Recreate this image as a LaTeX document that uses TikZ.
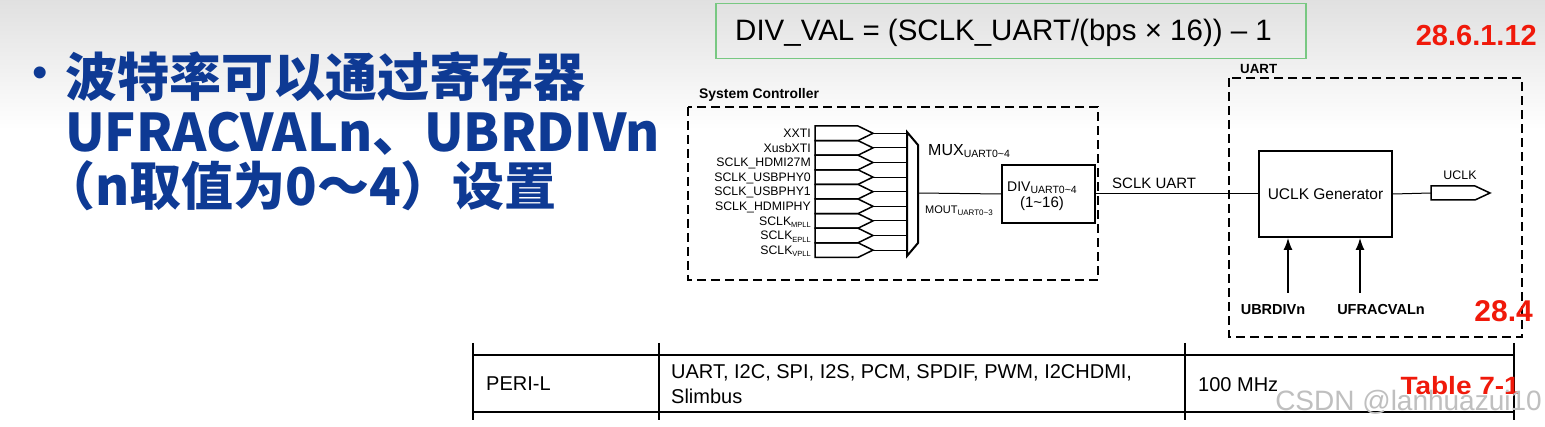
\documentclass[tikz,border=0pt]{standalone}
\usepackage{fontspec}
\setmainfont{Liberation Sans}
\newfontfamily\cjk{Noto Sans CJK SC}
\usetikzlibrary{arrows.meta}
\definecolor{tblue}{RGB}{14,58,148}
\definecolor{tred}{RGB}{240,25,10}
\definecolor{fgreen}{RGB}{120,200,130}
\newcommand\fsz[1]{\fontsize{#1}{#1}\selectfont}
\newcommand\lsub[3]{\raisebox{-#2pt}{\fontsize{#1}{#1}\selectfont #3}}
\begin{document}
\begin{tikzpicture}[x=1pt,y=-1pt,
  box/.style={draw, line width=2},
  wire/.style={draw, line width=1},
  dbox/.style={draw, line width=1.5, dash pattern=on 9pt off 5pt},
  txt/.style={inner sep=0, anchor=base west},
  lab/.style={inner sep=0, anchor=base east, font=\fsz{12.3}},
  tline/.style={draw, line width=1.5},
  redlab/.style={inner sep=0, anchor=base east, text=tred, font=\bfseries}]
\useasboundingbox (0,0) rectangle (1545,427);
\fill[top color=black!12, bottom color=white] (0,0) rectangle (1545,130);
\fill[white] (0,130) rectangle (1545,427);

% bullet text
\node[inner sep=0, anchor=center, text=tblue] (bul) at (40,77) {\fsz{44}•};
\node[txt, text=tblue, font=\cjk\bfseries\fsz{52}] (l1) at (65,97) {波特率可以通过寄存器};
\node[txt, text=tblue, font=\cjk\bfseries\fsz{52}] (l2) at (65,152) {UFRACVALn、UBRDIVn};
\node[txt, text=tblue, font=\cjk\bfseries\fsz{52}] (l3) at (43,206) {（n取值为0～4）设置};

% formula
\node[draw=fgreen, line width=1.5, minimum width=590, minimum height=55, anchor=north west, inner sep=0] (fbox) at (715,3) {};
\node[txt, font=\fsz{29.5}] (form) at (735,41) {DIV\_VAL = (SCLK\_UART/(bps × 16)) – 1};

\node[redlab, font=\bfseries\fsz{29}] (r1) at (1537,46) {28.6.1.12};

% system controller
\node[txt, font=\bfseries\fsz{13.9}] (sctl) at (699,99) {System Controller};
\draw[dbox] (688,107) rectangle (1098,280);

\foreach \lab [count=\i from 0] in {XXTI, XusbXTI, SCLK\_HDMI27M, SCLK\_USBPHY0, SCLK\_USBPHY1, SCLK\_HDMIPHY, {SCLK\lsub{7.5}{2.5}{MPLL}}, {SCLK\lsub{7.5}{2.5}{EPLL}}, {SCLK\lsub{7.5}{2.5}{VPLL}}} {
  \pgfmathsetmacro\yy{133.3+14.6*\i}
  \draw[line width=1.5] (815,\yy-7.3) -- (858,\yy-7.3) -- (873,\yy) -- (858,\yy+7.3) -- (815,\yy+7.3) -- cycle;
  \coordinate (tip\i) at (873,\yy);
  \coordinate (min\i) at (907,\yy);
  \draw[wire] (tip\i) -- (min\i);
  \node[lab] (lab\i) at (811,\yy+4.3) {\lab};
}

% mux
\coordinate (mux1) at (907,132);
\coordinate (mux2) at (918,145);
\coordinate (mux3) at (918,243);
\coordinate (mux4) at (907,256);
\draw[box] (mux1) -- (mux2) -- (mux3) -- (mux4) -- cycle;
\coordinate (mo) at (918,193);
\node[txt] (muxl) at (928,156) {\fsz{16}MUX\lsub{10.5}{2}{UART0\textasciitilde4}};
\node[txt] (moutl) at (925,214) {\fsz{11}MOUT\lsub{8}{1.5}{UART0\textasciitilde3}};

% divider
\node[box, minimum width=93, minimum height=58, anchor=north west, inner sep=0] (div) at (1001,164) {};
\node[inner sep=0, anchor=base] (divt) at (1042,192) {\fsz{14}DIV\lsub{10.5}{2}{UART0\textasciitilde4}};
\node[inner sep=0, anchor=base] (divr) at (1042,208) {\fsz{15}(1\textasciitilde16)};
\draw[wire] (mo) -- (div.west);

% UART block
\node[txt, font=\bfseries\fsz{13.3}] (uartl) at (1240,74) {UART};
\draw[dbox] (1229,78) rectangle (1522,337);
\node[box, minimum width=133, minimum height=86, anchor=north west, inner sep=0, font=\fsz{15.5}] (gen) at (1258,150) {UCLK Generator};
\draw[wire] (div.east) -- (gen.west);
\node[txt, font=\fsz{15}] (sclku) at (1112,189) {SCLK UART};

\coordinate (uin) at (1431,193);
\draw[line width=1.5] (1431,186) -- (1475,186) -- (1490,193) -- (1475,200) -- (1431,200) -- cycle;
\draw[wire] (gen.east) -- (uin);
\node[inner sep=0, anchor=base, font=\fsz{12.4}] (uclk) at (1460,180) {UCLK};

\coordinate (ub) at (1288,293);
\coordinate (uf) at (1360,293);
\draw[line width=1.3, -{Latex[length=12pt,width=9pt]}] (ub) -- (ub |- gen.south);
\draw[line width=1.3, -{Latex[length=12pt,width=9pt]}] (uf) -- (uf |- gen.south);
\node[inner sep=0, anchor=base, font=\bfseries\fsz{14.5}] (ubl) at (1273,315) {UBRDIVn};
\node[inner sep=0, anchor=base, font=\bfseries\fsz{14.5}] (ufl) at (1381,315) {UFRACVALn};

\node[redlab, font=\bfseries\fsz{30}] (r2) at (1533,322) {28.4};

% table
\coordinate (ta) at (473,343);
\coordinate (tb) at (659,343);
\coordinate (tc) at (1185,343);
\coordinate (td) at (1514,343);
\foreach \c in {ta,tb,tc,td} { \draw[tline] (\c) -- ++(0,77); }
\draw[tline] (473,355) -- (1514,355);
\draw[tline] (473,412) -- (1514,412);
\node[txt, font=\fsz{20}] (peri) at (486,391) {PERI-L};
\node[txt, font=\fsz{20}] (per1) at (671,379) {UART, I2C, SPI, I2S, PCM, SPDIF, PWM, I2CHDMI,};
\node[txt, font=\fsz{20}] (per2) at (671,403) {Slimbus};
\node[txt, font=\fsz{20}] (mhz) at (1198,392) {100 MHz};
\node[redlab] (r3) at (1520,395) {\scalebox{1.12}[1]{\fsz{25}\bfseries Table 7-1}};
\node[inner sep=0, anchor=base east, text=black!25, font=\fsz{28}] (wm) at (1542,410) {CSDN @lanhuazui10};
\end{tikzpicture}
\end{document}
